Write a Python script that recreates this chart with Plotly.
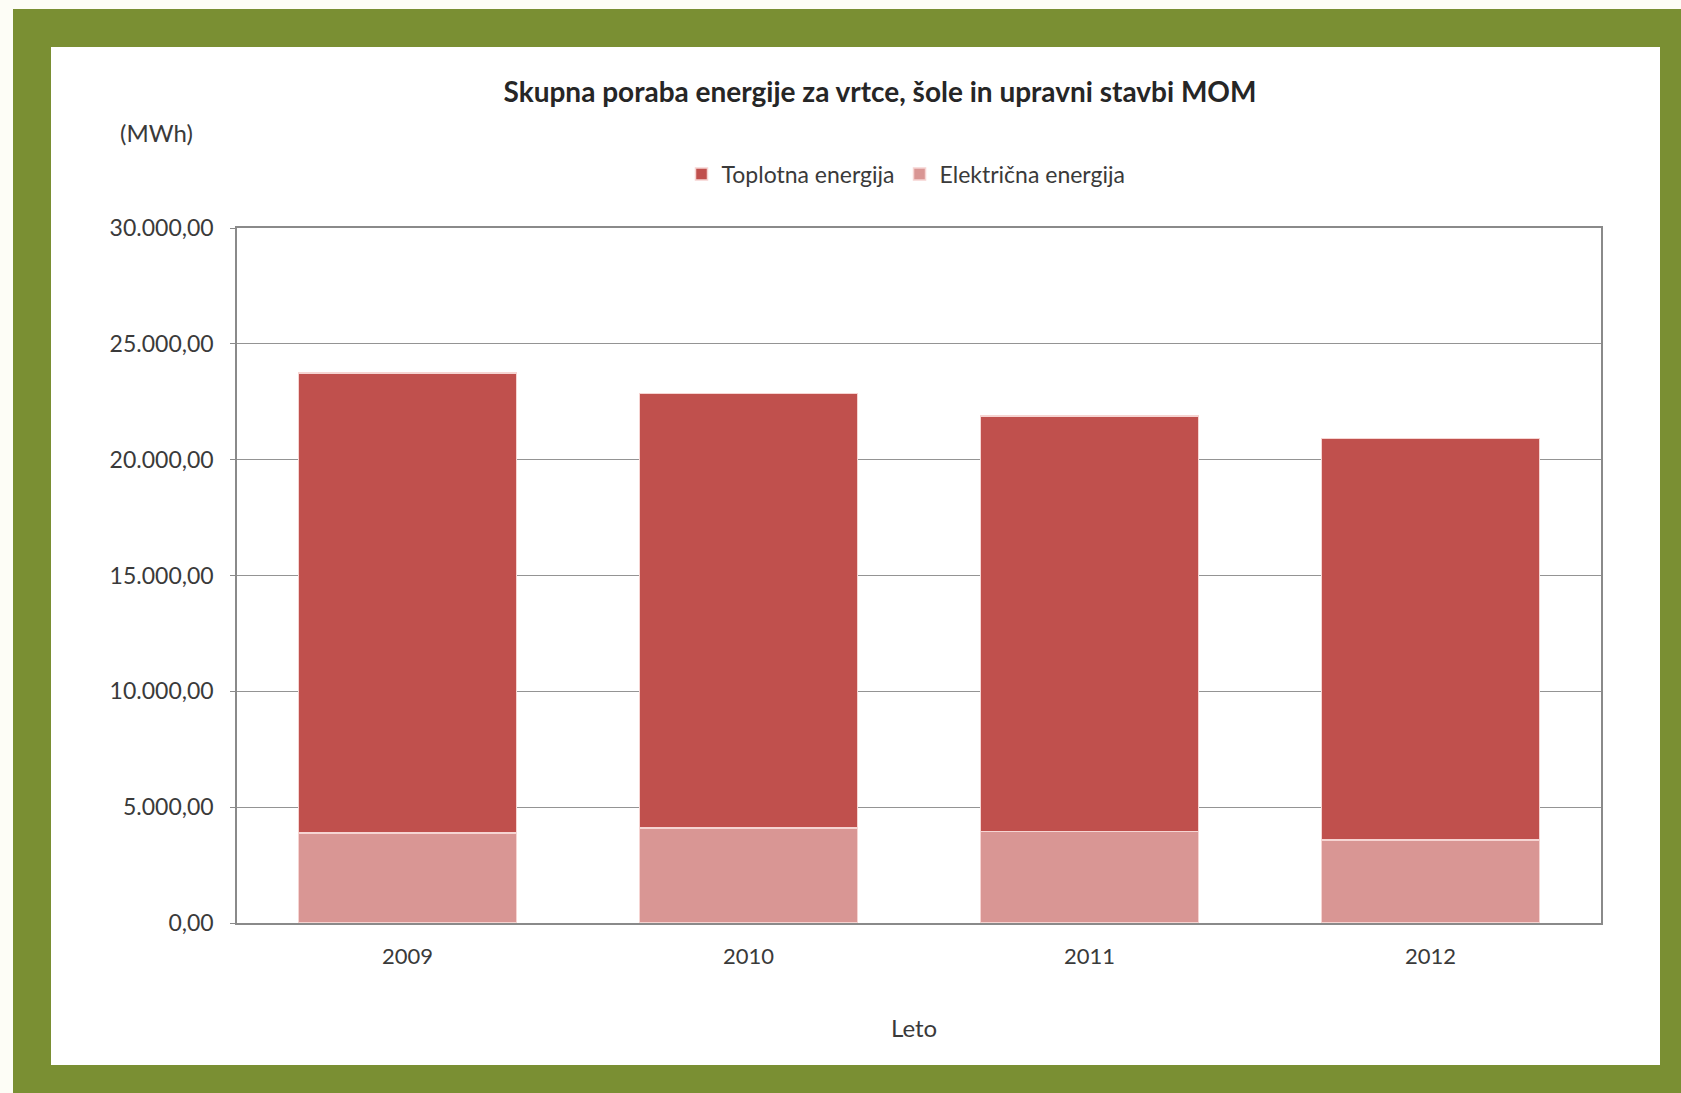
import plotly.graph_objects as go

# Annual energy use (MWh) for kindergartens, schools and the two MOM admin buildings
years = ["2009", "2010", "2011", "2012"]
toplotna = [19870, 18760, 17930, 17330]    # heat energy
elektricna = [3880, 4100, 3950, 3590]      # electricity

tick_vals = [0, 5000, 10000, 15000, 20000, 25000, 30000]

W, H = 1681, 1093
L, R, T, B = 237, 80, 228, 170          # plot-area margins in px
PW, PH = W - L - R, H - T - B


def px(x):
    return (x - L) / PW


def py(y):
    return (H - B - y) / PH


FONT = "Lato"
TXT = "#3a3a3a"
GREEN = "#7a8f33"

fig = go.Figure()
fig.add_trace(go.Bar(
    x=years, y=elektricna, name="Električna energija",
    marker=dict(color="#d99694", line=dict(color="#f6d4d2", width=1.5)),
))
fig.add_trace(go.Bar(
    x=years, y=toplotna, name="Toplotna energija",
    marker=dict(color="#c0504d", line=dict(color="#f6d4d2", width=1.5)),
))

shapes = [
    # green frame around the white card
    dict(type="rect", xref="paper", yref="paper", layer="below",
         x0=px(13), x1=px(W + 20), y0=py(9), y1=py(H + 20),
         fillcolor=GREEN, line=dict(width=0)),
    dict(type="rect", xref="paper", yref="paper", layer="below",
         x0=px(51), x1=px(1660), y0=py(47), y1=py(1065),
         fillcolor="white", line=dict(width=0)),
]

annotations = [
    dict(text="(MWh)", xref="paper", yref="paper", x=px(156), y=py(133),
         xanchor="center", yanchor="middle", showarrow=False,
         font=dict(family=FONT, size=24, color=TXT)),
    dict(text="Leto", xref="paper", yref="paper", x=px(914), y=py(1027),
         xanchor="center", yanchor="middle", showarrow=False,
         font=dict(family=FONT, size=24, color=TXT)),
]

fig.update_layout(
    width=W, height=H,
    margin=dict(l=L, r=R, t=T, b=B),
    paper_bgcolor="#fdfdf6",
    plot_bgcolor="rgba(0,0,0,0)",
    barmode="stack",
    bargap=0.36,
    separators=",.",
    title=dict(
        text="<b>Skupna poraba energije za vrtce, šole in upravni stavbi MOM</b>",
        xref="container", yref="container",
        x=880 / W, y=1 - 92 / H, xanchor="center", yanchor="middle",
        font=dict(family=FONT, size=28, color="#262626"),
    ),
    legend=dict(
        orientation="h", traceorder="reversed",
        x=px(906), y=py(174), xanchor="center", yanchor="middle",
        font=dict(family=FONT, size=23, color=TXT),
        bgcolor="rgba(0,0,0,0)", itemwidth=30,
    ),
    shapes=shapes,
    annotations=annotations,
    showlegend=True,
)

fig.update_xaxes(
    type="category",
    showline=True, linecolor="#8a8a8a", linewidth=1.5, mirror=True,
    ticks="", ticklabelstandoff=13,
    tickfont=dict(family=FONT, size=22, color=TXT),
    showgrid=False, zeroline=False,
)
fig.update_yaxes(
    range=[0, 30000], tickvals=tick_vals, tickformat=",.2f",
    showline=True, linecolor="#8a8a8a", linewidth=1.5, mirror=True,
    ticks="outside", ticklen=5, tickcolor="#8a8a8a",
    ticklabelstandoff=12,
    tickfont=dict(family=FONT, size=23, color=TXT),
    showgrid=True, gridcolor="#949494", gridwidth=1.2,
    zeroline=False,
)

fig.write_html("out.html")
